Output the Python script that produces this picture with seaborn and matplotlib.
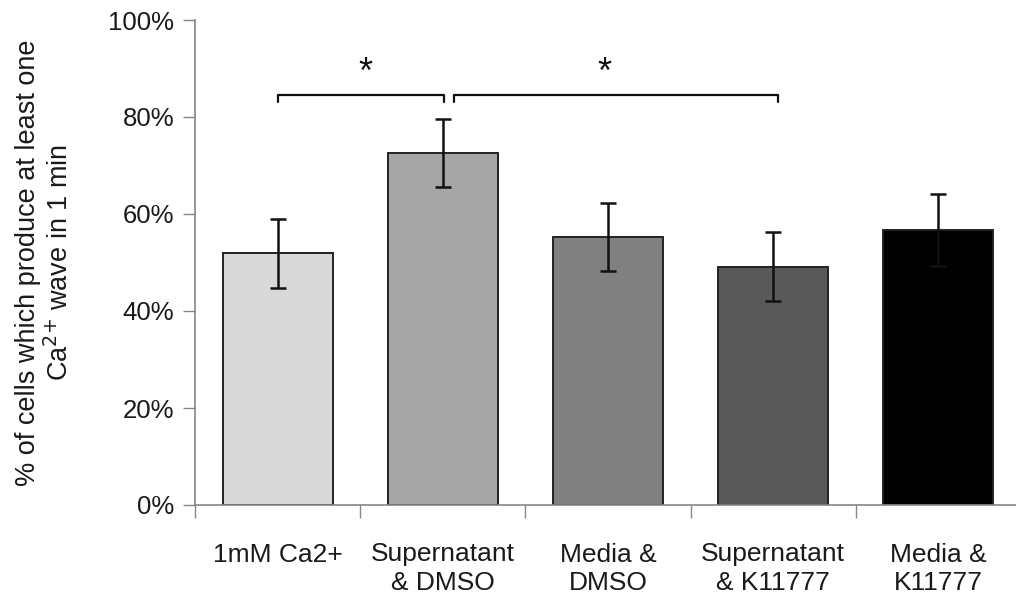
import matplotlib
matplotlib.use("Agg")
import matplotlib.pyplot as plt
import seaborn as sns
import pandas as pd
import numpy as np
from matplotlib.ticker import PercentFormatter, FixedLocator

categories = ["1mM Ca2+", "Supernatant\n& DMSO", "Media &\nDMSO", "Supernatant\n& K11777", "Media &\nK11777"]
means = [51.9, 72.5, 55.2, 49.1, 56.7]
errors = [7.1, 7.0, 7.0, 7.1, 7.4]
colors = ["#d9d9d9", "#a6a6a6", "#808080", "#595959", "#000000"]
brackets = [(0.0, 1.01), (1.07, 3.03)]
star_x = [0.53, 1.98]
bracket_y = 84.5
bracket_drop = 1.5
star_y = 89.0

sns.set_style("white")
plt.rcParams["font.family"] = ["Liberation Sans", "DejaVu Sans"]

df = pd.DataFrame({"cat": categories, "val": means})

fig = plt.figure(figsize=(10.16, 6.04), dpi=100)
ax = fig.add_axes([195/1016, (604-505)/604, (1021-195)/1016, (505-20)/604])

sns.barplot(data=df, x="cat", y="val", hue="cat", palette=colors, legend=False,
            width=0.665, edgecolor="#222222", linewidth=1.4, ax=ax, errorbar=None)
ax.errorbar(np.arange(len(means)), means, yerr=errors, fmt="none", ecolor="#111111",
            elinewidth=1.8, capsize=6, capthick=1.8)

for (x0, x1), sx in zip(brackets, star_x):
    ax.plot([x0, x0, x1, x1], [bracket_y - bracket_drop, bracket_y, bracket_y, bracket_y - bracket_drop],
            color="#111111", lw=1.6, clip_on=False)
    ax.text(sx, star_y, "*", ha="center", va="center", fontsize=26, color="#111111")

ax.set_ylim(0, 100)
ax.set_xlim(-0.5, 4.5)
ax.set_yticks([0, 20, 40, 60, 80, 100])
ax.yaxis.set_major_formatter(PercentFormatter(decimals=0))
ax.tick_params(axis="y", left=True, length=9, width=1, color="#868686", labelsize=18.5, pad=6,
               labelcolor="#1a1a1a")
ax.tick_params(axis="x", which="major", length=0, labelsize=19, pad=27, labelcolor="#1a1a1a")
ax.xaxis.set_minor_locator(FixedLocator([-0.5, 0.5, 1.5, 2.5, 3.5, 4.5]))
ax.tick_params(axis="x", which="minor", bottom=True, length=9, width=1, color="#868686")
for lbl in ax.get_xticklabels():
    lbl.set_verticalalignment("top")
    lbl.set_linespacing(1.25)

for s in ["top", "right"]:
    ax.spines[s].set_visible(False)
for s in ["left", "bottom"]:
    ax.spines[s].set_color("#868686")
    ax.spines[s].set_linewidth(1.2)

ax.set_xlabel("")
ax.set_ylabel("% of cells which produce at least one\nCa$^{2{+}}$ wave in 1 min", fontsize=19.5,
              color="#1a1a1a", linespacing=1.2)
ax.yaxis.set_label_coords(-0.147, 0.5)

fig.savefig("out.png", dpi=100)
